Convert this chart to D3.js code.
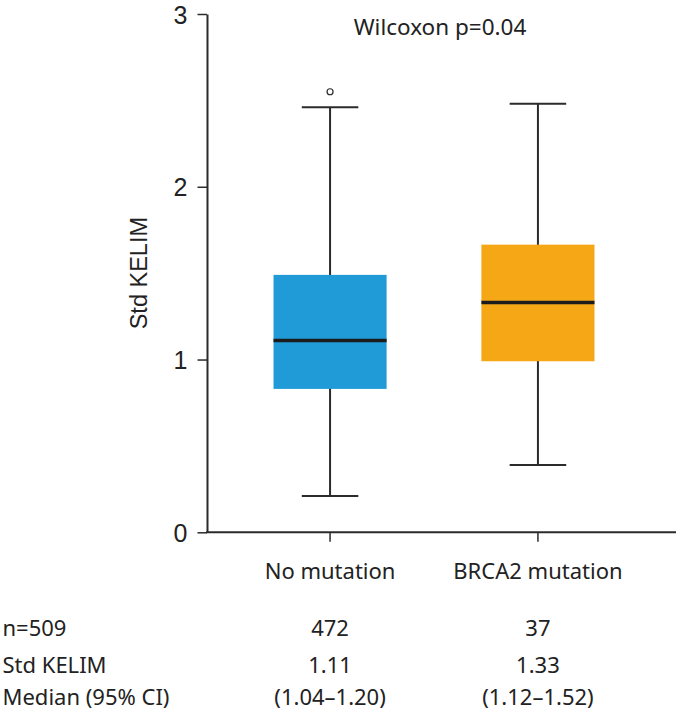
<!DOCTYPE html>
<html>
<head>
<meta charset="utf-8">
<script src="https://cdn.jsdelivr.net/npm/d3@7"></script>
<style>
  html, body { margin: 0; padding: 0; background: #fff; }
  svg { display: block; }
</style>
</head>
<body>
<svg id="chart" width="676" height="712"></svg>
<script>
// ---- data ----
const categories = ["No mutation", "BRCA2 mutation"];
const whiskerLow = [0.21, 0.39];
const q1 = [0.83, 0.99];
const medians = [1.11, 1.33];
const q3 = [1.49, 1.665];
const whiskerHigh = [2.46, 2.48];
const outliers = [[2.55], []];
const boxColors = ["#219bd8", "#f5a716"];
const yTicks = [0, 1, 2, 3];
const yLabel = "Std KELIM";
const testLabel = "Wilcoxon p=0.04";
const rowLabels = ["n=509", "Std KELIM", "Median (95% CI)"];
const counts = ["472", "37"];
const medianText = ["1.11", "1.33"];
const ciText = ["(1.04–1.20)", "(1.12–1.52)"];

// ---- layout ----
const W = 676, H = 712;
const axisX = 207, plotRight = 676;
const yTop = 14, yBottom = 532.3;
const svg = d3.select("#chart");
const ink = "#2b2b2b";
const sansA = "'Liberation Sans', Arial, sans-serif";
const sansB = "'Noto Sans', 'Open Sans', sans-serif";

const y = d3.scaleLinear().domain([0, 3]).range([yBottom, yTop]);
const x = d3.scaleBand().domain(categories).range([axisX, 661])
  .paddingInner(0.456).paddingOuter(0.32);
const bw = x.bandwidth();
const cx = c => x(c) + bw / 2;

// y axis
const yAxis = svg.append("g").attr("transform", `translate(${axisX},0)`)
  .call(d3.axisLeft(y).tickValues(yTicks).tickFormat(d3.format("d"))
    .tickSize(9.5).tickSizeOuter(0).tickPadding(10));
yAxis.select(".domain").attr("stroke", ink).attr("stroke-width", 2);
yAxis.selectAll(".tick line").attr("stroke", ink).attr("stroke-width", 1.5);
yAxis.selectAll(".tick text").attr("font-family", sansA).attr("font-size", 25)
  .attr("fill", "#222").attr("dy", "0.36em");

// x axis
const xAxis = svg.append("g").attr("transform", `translate(0,${yBottom})`)
  .call(d3.axisBottom(x).tickSize(9.5).tickSizeOuter(0).tickFormat(""));
xAxis.select(".domain").remove();
xAxis.selectAll(".tick line").attr("stroke", ink).attr("stroke-width", 1.5);
svg.append("line").attr("x1", axisX - 1).attr("x2", plotRight)
  .attr("y1", yBottom).attr("y2", yBottom)
  .attr("stroke", ink).attr("stroke-width", 2);

// y label
svg.append("text")
  .attr("transform", `translate(146.5,${(yTop + yBottom) / 2}) rotate(-90)`)
  .attr("text-anchor", "middle").attr("font-family", sansA)
  .attr("font-size", 23.5).attr("fill", "#222").text(yLabel);

// boxes
const groups = svg.append("g").selectAll("g").data(categories).join("g");
groups.append("line")
  .attr("x1", cx).attr("x2", cx)
  .attr("y1", (d, i) => y(whiskerLow[i])).attr("y2", (d, i) => y(whiskerHigh[i]))
  .attr("stroke", ink).attr("stroke-width", 2);
groups.append("rect")
  .attr("x", d => x(d)).attr("width", bw)
  .attr("y", (d, i) => y(q3[i])).attr("height", (d, i) => y(q1[i]) - y(q3[i]))
  .attr("fill", (d, i) => boxColors[i]);
groups.append("line")
  .attr("x1", d => x(d)).attr("x2", d => x(d) + bw)
  .attr("y1", (d, i) => y(medians[i])).attr("y2", (d, i) => y(medians[i]))
  .attr("stroke", "#1c1c1c").attr("stroke-width", 3.5);
[whiskerLow, whiskerHigh].forEach(arr => {
  groups.append("line")
    .attr("x1", d => cx(d) - bw / 4).attr("x2", d => cx(d) + bw / 4)
    .attr("y1", (d, i) => y(arr[i])).attr("y2", (d, i) => y(arr[i]))
    .attr("stroke", ink).attr("stroke-width", 2);
});
groups.each(function (d, i) {
  d3.select(this).selectAll("circle.out").data(outliers[i]).join("circle")
    .attr("class", "out").attr("cx", cx(d)).attr("cy", v => y(v)).attr("r", 3)
    .attr("fill", "none").attr("stroke", ink).attr("stroke-width", 1.2);
});

// test label
svg.append("text")
  .attr("x", (cx(categories[0]) + cx(categories[1])) / 2 + 6).attr("y", 35)
  .attr("text-anchor", "middle").attr("font-family", sansB).attr("font-size", 22.5)
  .attr("fill", "#222").text(testLabel);

// category labels
svg.append("g").selectAll("text").data(categories).join("text")
  .attr("x", cx).attr("y", 579).attr("text-anchor", "middle")
  .attr("font-family", sansB).attr("font-size", 22).attr("fill", "#222")
  .text(d => d);

// table
const rowY = [635.5, 672.5, 704.5];
svg.append("g").selectAll("text").data(rowLabels).join("text")
  .attr("x", 2.5).attr("y", (d, i) => rowY[i])
  .attr("font-family", sansB).attr("font-size", 22).attr("fill", "#222")
  .text(d => d);
[counts, medianText, ciText].forEach((arr, r) => {
  svg.append("g").selectAll("text").data(categories).join("text")
    .attr("x", cx).attr("y", rowY[r]).attr("text-anchor", "middle")
    .attr("font-family", sansB).attr("font-size", 22).attr("fill", "#222")
    .text((d, i) => arr[i]);
});
</script>
</body>
</html>
